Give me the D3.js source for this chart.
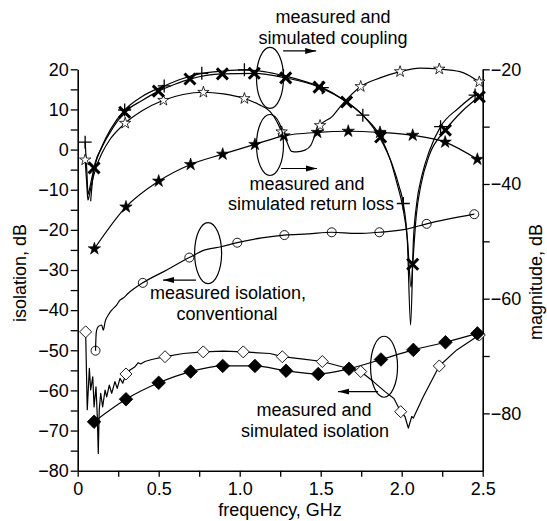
<!DOCTYPE html>
<html>
<head>
<meta charset="utf-8">
<title>isolation / magnitude vs frequency</title>
<script src="https://d3js.org/d3.v7.min.js"></script>
<style>
body { margin: 0; background: #fff; }
text { font-family: "Liberation Sans", Arial, Helvetica, sans-serif; font-size: 18px; fill: #000; }
</style>
</head>
<body>
<script>

// ---- data: [frequency GHz, dB] ----
// right axis (magnitude, dB)
var couplingMeas = [[0.046,-32.7],[0.056,-37.5],[0.064,-41.8],[0.075,-40.6],[0.09,-38.6],[0.11,-36.4],[0.15,-33.4],[0.2,-30.6],[0.29,-27.1],[0.4,-24.7],[0.534,-22.9],[0.65,-21.6],[0.766,-20.7],[0.9,-20.3],[1.029,-20.1],[1.15,-20.4],[1.27,-21.1],[1.4,-22.1],[1.51,-23.2],[1.64,-25.3],[1.76,-28.0],[1.87,-32.2],[1.94,-36.5],[1.985,-40.5],[2.01,-43.4],[2.035,-50],[2.055,-64.6],[2.072,-50],[2.092,-43.5],[2.125,-38.5],[2.17,-34.3],[2.24,-30.0],[2.35,-26.8],[2.453,-24.5],[2.475,-24.2]];
var couplingMeasMarks = [[0.046,-32.7],[0.29,-27.1],[0.534,-22.9],[0.766,-20.7],[1.029,-20.1],[1.27,-21.1],[1.51,-23.2],[1.76,-28.0],[2.01,-43.4],[2.24,-30.0],[2.453,-24.5]];

var couplingSim = [[0.08,-43],[0.101,-37.2],[0.15,-33.6],[0.2,-31.0],[0.29,-27.5],[0.4,-25.4],[0.498,-23.8],[0.6,-22.6],[0.693,-21.7],[0.893,-20.8],[1.09,-20.7],[1.284,-21.5],[1.49,-23.1],[1.66,-25.7],[1.77,-28.3],[1.87,-31.8],[1.93,-35.8],[1.97,-39.8],[2.005,-43.8],[2.035,-49.5],[2.058,-58],[2.068,-54],[2.09,-45.5],[2.12,-40.0],[2.17,-35.0],[2.27,-30.6],[2.37,-27.4],[2.479,-24.8]];
var couplingSimMarks = [[0.101,-37.2],[0.29,-27.5],[0.498,-23.8],[0.693,-21.7],[0.893,-20.8],[1.09,-20.7],[1.284,-21.5],[1.49,-23.1],[1.66,-25.7],[1.87,-31.8],[2.068,-54],[2.27,-30.6],[2.479,-24.8]];

var retLossMeas = [[0.046,-35.8],[0.056,-40],[0.063,-42.8],[0.075,-41.5],[0.09,-39.5],[0.11,-37.4],[0.15,-34.6],[0.2,-32.2],[0.293,-29.4],[0.4,-27.2],[0.529,-25.4],[0.65,-24.4],[0.776,-24.0],[0.9,-24.3],[1.029,-25.1],[1.115,-26.1],[1.188,-27.4],[1.229,-29.1],[1.259,-30.9],[1.29,-32.6],[1.32,-34.3],[1.352,-34.4],[1.403,-34.1],[1.44,-33.2],[1.465,-31.5],[1.496,-29.8],[1.568,-28.3],[1.63,-26.2],[1.747,-23.0],[1.866,-21.5],[1.99,-20.4],[2.113,-19.8],[2.232,-19.95],[2.36,-20.4],[2.479,-22.2]];
var retLossMeasMarks = [[0.046,-35.8],[0.293,-29.4],[0.529,-25.4],[0.776,-24.0],[1.029,-25.1],[1.259,-30.9],[1.496,-29.8],[1.747,-23.0],[1.99,-20.4],[2.232,-19.95],[2.479,-22.2]];

var retLossSim = [[0.103,-51.3],[0.298,-44.0],[0.5,-39.5],[0.697,-36.6],[0.895,-34.8],[1.094,-33.1],[1.273,-31.6],[1.479,-31.0],[1.67,-30.8],[1.866,-31.0],[2.068,-31.5],[2.268,-32.7],[2.467,-35.7]];

// left axis (isolation, dB)
var isoConv = [[0.11,-50.1],[0.113,-46.5],[0.117,-45.0],[0.127,-44.1],[0.148,-43.7],[0.158,-45.0],[0.169,-42.9],[0.189,-41.2],[0.21,-40.0],[0.241,-38.7],[0.261,-37.5],[0.281,-37.0],[0.312,-35.8],[0.402,-33.2],[0.55,-30.0],[0.689,-26.9],[0.786,-25.0],[0.885,-24.2],[0.985,-23.2],[1.136,-22.0],[1.276,-21.3],[1.424,-21.0],[1.568,-20.6],[1.72,-20.9],[1.862,-20.6],[2.031,-19.8],[2.154,-18.5],[2.448,-16.1]];
var isoConvMarks = [[0.11,-50.1],[0.402,-33.2],[0.689,-26.9],[0.985,-23.2],[1.276,-21.3],[1.568,-20.6],[1.862,-20.6],[2.154,-18.5],[2.448,-16.1]];

var isoMeas = [[0.049,-45.4],[0.059,-64.8],[0.072,-54.5],[0.08,-59.9],[0.093,-56.6],[0.101,-64.1],[0.113,-59.1],[0.121,-66.5],[0.127,-75.7],[0.133,-64.9],[0.142,-60.7],[0.154,-64.1],[0.169,-59.9],[0.179,-61.6],[0.195,-58.7],[0.21,-60.7],[0.23,-57.8],[0.244,-59.5],[0.261,-57.0],[0.278,-58.2],[0.298,-55.9],[0.323,-54.9],[0.354,-54.1],[0.374,-53.1],[0.389,-53.4],[0.415,-52.8],[0.457,-52.3],[0.539,-51.6],[0.652,-50.8],[0.775,-50.4],[0.899,-50.2],[1.022,-50.4],[1.187,-50.8],[1.263,-51.6],[1.393,-52.2],[1.51,-52.8],[1.63,-54.1],[1.747,-55.3],[1.825,-57.8],[1.897,-60.3],[1.952,-62.0],[1.994,-65.3],[2.02,-66.5],[2.041,-69.4],[2.062,-66.5],[2.072,-66.9],[2.133,-61.6],[2.232,-53.9],[2.34,-49.9],[2.479,-46.2]];
var isoMeasMarks = [[0.049,-45.4],[0.298,-55.9],[0.539,-51.6],[0.775,-50.4],[1.022,-50.4],[1.263,-51.6],[1.51,-52.8],[1.747,-55.3],[1.994,-65.3],[2.232,-53.9],[2.479,-46.2]];

var isoSim = [[0.101,-67.8],[0.298,-62.2],[0.5,-58.1],[0.697,-55.3],[0.895,-53.9],[1.094,-53.9],[1.286,-55.1],[1.485,-55.9],[1.675,-54.6],[1.872,-52.3],[2.072,-49.9],[2.27,-48.0],[2.467,-45.8]];

// tick values
var xTicks = d3.range(0, 2.51, 0.25);
var yLeftTicks = d3.range(-80, 21, 5);
var yRightTicks = d3.range(-80, -19, 10);

// ---- layout ----
var W = 547, H = 521;

var x = d3.scaleLinear().domain([0, 2.5]).range([77.7, 482.7]);
var yL = d3.scaleLinear().domain([-80, 20]).range([470.7, 69.3]);
var yR = d3.scaleLinear().domain([-90, -20]).range([470.7, 69.3]);

var svg = d3.select("body").append("svg")
	.attr("width", W)
	.attr("height", H);
svg.append("rect").attr("width", W).attr("height", H).attr("fill", "#fff");

// arrow head
svg.append("defs").append("marker")
	.attr("id", "arrow")
	.attr("viewBox", "0 -5 11 10")
	.attr("refX", 11)
	.attr("refY", 0)
	.attr("markerWidth", 11)
	.attr("markerHeight", 10)
	.attr("markerUnits", "userSpaceOnUse")
	.attr("orient", "auto")
	.append("path")
	.attr("d", "M0,-3L11,0L0,3Z")
	.attr("fill", "#000");

var minus = function(d){ return d < 0 ? "\u2212" + Math.abs(d) : String(d); };

// axes
var gLeft = svg.append("g")
	.attr("transform", "translate(" + x(0) + ",0)")
	.call(d3.axisLeft(yL).tickValues(yLeftTicks).tickSize(7).tickSizeOuter(0).tickPadding(2)
		.tickFormat(function(d){ return d % 10 === 0 ? minus(d) : ""; }));

var gRight = svg.append("g")
	.attr("transform", "translate(" + x(2.5) + ",0)")
	.call(d3.axisRight(yR).tickValues(yRightTicks).tickSize(7).tickSizeOuter(0).tickPadding(1)
		.tickFormat(function(d){ return d % 20 === 0 ? minus(d) : ""; }));

var gBottom = svg.append("g")
	.attr("transform", "translate(0," + yL(-80) + ")")
	.call(d3.axisBottom(x).tickValues(xTicks).tickSize(6).tickSizeOuter(0).tickPadding(6)
		.tickFormat(function(d){
			if (Math.abs(d * 2 - Math.round(d * 2)) > 1e-9) return "";
			return d === 0 ? "0" : d.toFixed(1);
		}));

[gLeft, gRight, gBottom].forEach(function(g){
	g.attr("font-size", null).attr("font-family", null);
	g.select("path.domain").attr("stroke-width", 1.6);
	g.selectAll(".tick line").attr("stroke-width", 1.3);
	g.selectAll(".tick text").style("font-size", "18px");
});

// ---- curves ----
var lineOn = function(ys, curve){
	return d3.line()
		.x(function(d){ return x(d[0]); })
		.y(function(d){ return ys(d[1]); })
		.curve(curve || d3.curveMonotoneX);
};

var curves = [
	{data: couplingMeas, y: yR},
	{data: couplingSim, y: yR},
	{data: retLossMeas, y: yR},
	{data: retLossSim, y: yR},
	{data: isoConv, y: yL},
	{data: isoMeas, y: yL, curve: d3.curveLinear},
	{data: isoSim, y: yL}
];

svg.append("g").selectAll("path")
	.data(curves)
	.enter().append("path")
	.attr("d", function(c){ return lineOn(c.y, c.curve)(c.data); })
	.attr("fill", "none")
	.attr("stroke", "#000")
	.attr("stroke-width", 1.2)
	.attr("stroke-linejoin", "round");

// ---- markers ----
function drawMarks(data, ys, d, fill, sw){
	svg.append("g").selectAll("path")
		.data(data)
		.enter().append("path")
		.attr("transform", function(p){ return "translate(" + x(p[0]) + "," + ys(p[1]) + ")"; })
		.attr("d", d)
		.attr("fill", fill)
		.attr("stroke", "#000")
		.attr("stroke-width", sw);
}

var plusPath = "M-6.5,0H6.5M0,-6.5V6.5";
var crossPath = "M-5.5,-5.5L5.5,5.5M-5.5,5.5L5.5,-5.5";
var diamondFull = "M0,-6.8L6.8,0L0,6.8L-6.8,0Z";
var diamondOpen = "M0,-6L6,0L0,6L-6,0Z";
var starFull = d3.symbol().type(d3.symbolStar).size(48)();
var starOpen = d3.symbol().type(d3.symbolStar).size(40)();
var circleOpen = d3.symbol().type(d3.symbolCircle).size(Math.PI * 4.5 * 4.5)();

drawMarks(isoConvMarks, yL, circleOpen, "none", 0.9);
drawMarks(isoMeasMarks, yL, diamondOpen, "#fff", 0.9);
drawMarks(isoSim, yL, diamondFull, "#000", 0.8);
drawMarks(retLossSim, yR, starFull, "#000", 0.6);
drawMarks(retLossMeasMarks, yR, starOpen, "#fff", 0.8);
drawMarks(couplingMeasMarks, yR, plusPath, "none", 1.3);
drawMarks(couplingSimMarks, yR, crossPath, "none", 3);

// ---- annotations: ellipses and arrows (data units) ----
var ellipses = [
	{f: 1.187, v: -21.5, y: yR},
	{f: 1.187, v: -33.2, y: yR},
	{f: 0.805, v: -25.8, y: yL},
	{f: 1.891, v: -54.1, y: yL}
];
svg.append("g").selectAll("ellipse")
	.data(ellipses)
	.enter().append("ellipse")
	.attr("cx", function(e){ return x(e.f); })
	.attr("cy", function(e){ return e.y(e.v); })
	.attr("rx", 13.5)
	.attr("ry", 30.5)
	.attr("fill", "none")
	.attr("stroke", "#000")
	.attr("stroke-width", 1.2);

var arrows = [
	{f0: 1.268, f1: 1.472, v: -16.8, y: yR},
	{f0: 1.255, f1: 1.477, v: -37.3, y: yR},
	{f0: 0.73, f1: 0.527, v: -32.5, y: yL},
	{f0: 1.854, f1: 1.607, v: -60.3, y: yL}
];
svg.append("g").selectAll("line")
	.data(arrows)
	.enter().append("line")
	.attr("x1", function(a){ return x(a.f0); })
	.attr("x2", function(a){ return x(a.f1); })
	.attr("y1", function(a){ return a.y(a.v); })
	.attr("y2", function(a){ return a.y(a.v); })
	.attr("stroke", "#000")
	.attr("stroke-width", 1.2)
	.attr("marker-end", "url(#arrow)");

// ---- text ----
var labels = [
	{t: "measured and", x: 333, y: 22.5, a: "middle"},
	{t: "simulated coupling", x: 333, y: 43.5, a: "middle"},
	{t: "measured and", x: 307, y: 190, a: "middle"},
	{t: "simulated return loss", x: 394, y: 210, a: "end"},
	{t: "measured isolation,", x: 228, y: 299, a: "middle"},
	{t: "conventional", x: 227, y: 320, a: "middle"},
	{t: "measured and", x: 314, y: 416, a: "middle"},
	{t: "simulated isolation", x: 315, y: 436.5, a: "middle"},
	{t: "frequency, GHz", x: 280, y: 516, a: "middle"}
];
svg.append("g").selectAll("text")
	.data(labels)
	.enter().append("text")
	.attr("x", function(d){ return d.x; })
	.attr("y", function(d){ return d.y; })
	.attr("text-anchor", function(d){ return d.a; })
	.text(function(d){ return d.t; });

svg.append("text")
	.attr("transform", "translate(26,322) rotate(-90)")
	.attr("text-anchor", "start")
	.text("isolation, dB");

svg.append("text")
	.attr("transform", "translate(542,340) rotate(-90)")
	.attr("text-anchor", "start")
	.text("magnitude, dB");

</script>
</body>
</html>
